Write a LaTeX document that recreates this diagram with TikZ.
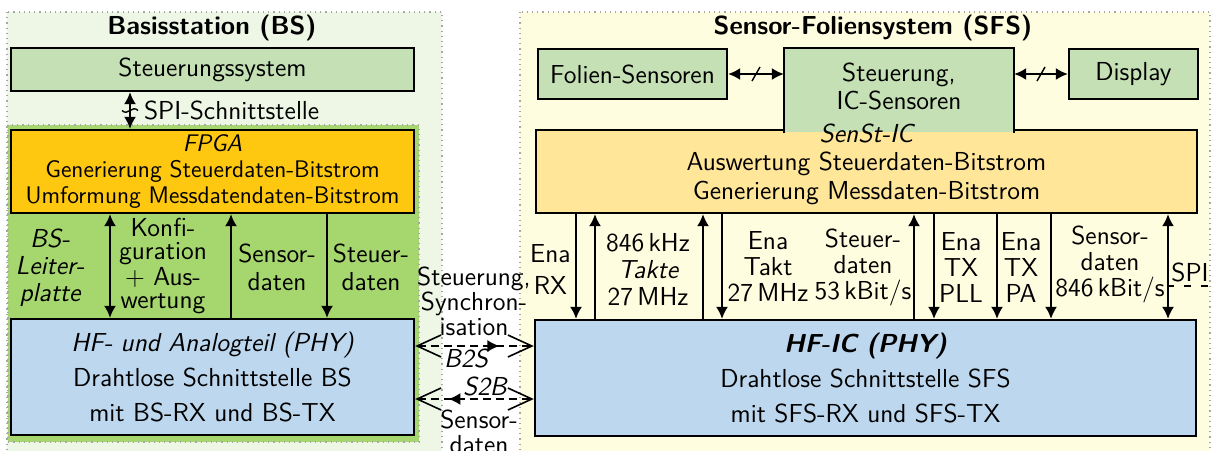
\documentclass[tikz,border=0pt]{standalone}
\usepackage{fontspec}
\usetikzlibrary{arrows.meta,positioning,decorations.markings}

\definecolor{bsback}{RGB}{238,246,229}
\definecolor{pcbgreen}{RGB}{166,214,110}
\definecolor{ctrlgreen}{RGB}{197,224,180}
\definecolor{fpgagold}{RGB}{255,200,16}
\definecolor{phyblue}{RGB}{189,215,238}
\definecolor{sfsback}{RGB}{255,253,224}
\definecolor{sfsorange}{RGB}{255,230,153}

\tikzset{
    every node/.style={font=\fontsize{13}{14}\selectfont\sffamily},
    region/.style={draw=gray!70, dotted, line width=0.6pt},
    block/.style={draw=black, line width=1.2pt, inner sep=0pt, align=center},
    title/.style={font=\fontsize{13}{15}\selectfont\sffamily\bfseries},
    lbl/.style={align=center, inner sep=0pt, font=\fontsize{13}{#1}\selectfont\sffamily},
    lbl/.default=13.5,
    sig/.style={line width=0.8pt, -{Latex[length=6pt,width=6pt]}},
    sig up/.style={line width=0.8pt, {Latex[length=6pt,width=6pt]}-},
    sig both/.style={line width=0.8pt, {Latex[length=6pt,width=6pt]}-{Latex[length=6pt,width=6pt]}},
    bus/.style={sig both, postaction={decorate},
        decoration={markings, mark=at position 0.5 with {\draw[-, line width=0.7pt] (-2pt,-3.5pt) -- (2pt,3.5pt);}}},
    bus wave/.style={sig both, postaction={decorate},
        decoration={markings, mark=at position 0.5 with {\draw[-, line width=0.7pt] (0pt,-4pt) .. controls (3pt,-1pt) and (-3pt,1pt) .. (0pt,4pt);}}},
    air/.style={line width=0.8pt, dash pattern=on 4pt off 2.5pt,
        {Straight Barb[length=12pt,width=11pt]}-{Straight Barb[length=12pt,width=11pt]}},
    to sfs/.style={postaction={decorate},
        decoration={markings, mark=at position 0.71 with {\arrow{Latex[length=6pt,width=6pt]}}}},
    to bs/.style={postaction={decorate},
        decoration={markings, mark=at position 0.28 with {\arrowreversed{Latex[length=6pt,width=6pt]}}}},
}

\begin{document}
\begin{tikzpicture}[x=0.5pt, y=-0.5pt]
    \useasboundingbox (0,0) rectangle (1215,450);
    \clip (0,0) rectangle (1215,450);
    \begin{scope}
        % Basisstation
        \draw[region, fill=bsback] (7,12) rectangle (442,470);
        \draw[region, fill=pcbgreen] (8,125) rectangle (419,442);
        \node[title] (bstitle) at (212,28) {Basisstation (BS)};
        \node[block, fill=ctrlgreen, minimum width=201.5pt, minimum height=21.5pt] (steu) at (212.5,69.5) {Steuerungssystem};
        \node[block, fill=fpgagold, minimum width=201.5pt, minimum height=41.5pt, font=\fontsize{12}{13}\selectfont\sffamily] (fpga) at (212.5,171.5)
            {{\itshape FPGA}\\Generierung Steuerdaten-Bitstrom\\Umformung Messdatendaten-Bitstrom};
        \node[block, fill=phyblue, minimum width=201.5pt, minimum height=58pt] (bsphy) at (212.5,377)
            {{\itshape HF- und Analogteil (PHY)}\\[3.5pt]Drahtlose Schnittstelle BS\\[3.5pt]mit BS-RX und BS-TX};
        \coordinate (spix) at (130,0);
        \coordinate (konfx) at (110,0);
        \coordinate (sensx) at (231,0);
        \coordinate (steux) at (327,0);
        \draw[bus wave] (steu.south -| spix) -- (fpga.north -| spix);
        \node[anchor=west] (spilabel) at (137,110) {SPI-Schnittstelle};
        \draw[sig both] (fpga.south -| konfx) -- (bsphy.north -| konfx);
        \draw[sig up] (fpga.south -| sensx) -- (bsphy.north -| sensx);
        \draw[sig] (fpga.south -| steux) -- (bsphy.north -| steux);
        \node[lbl] (pcblabel) at (50,268) {\itshape BS-\\\itshape Leiter-\\\itshape platte};
        \node[lbl=11.5] (konflabel) at (163,266) {Konfi-\\guration\\+ Aus-\\wertung};
        \node[lbl=14] (senslabel) at (277,267) {Sensor-\\daten};
        \node[lbl=14] (steulabel) at (371,267) {Steuer-\\daten};
    \end{scope}
    \begin{scope}
        % Sensor-Foliensystem
        \draw[region, fill=sfsback] (520,12) rectangle (1210,470);
        \node[title] (sfstitle) at (873,28) {Sensor-Foliensystem (SFS)};
        \node[block, fill=ctrlgreen, minimum width=94.5pt, minimum height=25pt] (folien) at (632.5,74) {Folien-Sensoren};
        \node[block, fill=ctrlgreen, minimum width=64.5pt, minimum height=25pt] (display) at (1133.5,74) {Display};
        \node[block, fill=sfsorange, minimum width=330.5pt, minimum height=41.5pt] (sfsctl) at (866.5,171.5) {};
        \node[block, draw=none, fill=ctrlgreen, minimum width=114pt, minimum height=41.5pt] (sensst) at (899,90.5) {};
        \draw[line width=1.2pt] (sensst.south west) -- (sensst.north west) -- (sensst.north east) -- (sensst.south east);
        \node[lbl=14] (sensttext) at (899,86) {Steuerung,\\IC-Sensoren};
        \node[lbl=14.25] (sfsctltext) at (866.5,164)
            {{\itshape SenSt-IC}\\Auswertung Steuerdaten-Bitstrom\\Generierung Messdaten-Bitstrom};
        \node[block, fill=phyblue, minimum width=330.5pt, minimum height=58pt] (sfsphy) at (865.5,378)
            {{\bfseries\itshape HF-IC (PHY)}\\[3.5pt]Drahtlose Schnittstelle SFS\\[3.5pt]mit SFS-RX und SFS-TX};
        \draw[bus] (folien.east) -- (folien.east -| sensst.west);
        \draw[bus] (display.west -| sensst.east) -- (display.west);
        \coordinate (enarx) at (576,0);
        \coordinate (takta) at (595,0);
        \coordinate (taktb) at (703,0);
        \coordinate (enatakt) at (722,0);
        \coordinate (steudat) at (914,0);
        \coordinate (enapll) at (934,0);
        \coordinate (enapa) at (997,0);
        \coordinate (sensdat) at (1051,0);
        \coordinate (spi) at (1168,0);
        \draw[sig] (sfsctl.south -| enarx) -- (sfsphy.north -| enarx);
        \draw[sig up] (sfsctl.south -| takta) -- (sfsphy.north -| takta);
        \draw[sig up] (sfsctl.south -| taktb) -- (sfsphy.north -| taktb);
        \draw[sig] (sfsctl.south -| enatakt) -- (sfsphy.north -| enatakt);
        \draw[sig up] (sfsctl.south -| steudat) -- (sfsphy.north -| steudat);
        \draw[sig] (sfsctl.south -| enapll) -- (sfsphy.north -| enapll);
        \draw[sig] (sfsctl.south -| enapa) -- (sfsphy.north -| enapa);
        \draw[sig] (sfsctl.south -| sensdat) -- (sfsphy.north -| sensdat);
        \draw[sig both] (sfsctl.south -| spi) -- (sfsphy.north -| spi);
        \node[lbl=12, anchor=east] (enarxlabel) at (571,269) {Ena\\[4pt]RX};
        \node[lbl=13.5] (taktlabel) at (648,270) {846\,kHz\\{\itshape Takte}\\27\,MHz};
        \node[lbl=13] (enataktlabel) at (768,267) {Ena\\Takt\\27\,MHz};
        \node[lbl=13] (steudatlabel) at (863,267) {Steuer-\\daten\\53\,kBit/s};
        \node[lbl=13] (enaplllabel) at (961,267) {Ena\\TX\\PLL};
        \node[lbl=13] (enapalabel) at (1021,267) {Ena\\TX\\PA};
        \node[lbl=13] (sensdatlabel) at (1110,264) {Sensor-\\daten\\846\,kBit/s};
        \node[lbl, anchor=east] (spilbl) at (1209,272) {SPI};
        \draw[line width=0.7pt, dash pattern=on 3.5pt off 5pt] ([xshift=-2pt,yshift=-2pt]spilbl.south west) -- ([yshift=-2pt]spilbl.south east);
    \end{scope}
    % Funkstrecke
    \coordinate (b2s) at (0,346);
    \coordinate (s2b) at (0,399);
    \draw[air, to sfs] (bsphy.east |- b2s) -- (sfsphy.west |- b2s);
    \draw[air, to bs] (bsphy.east |- s2b) -- (sfsphy.west |- s2b);
    \node[lbl=12.5] (synclabel) at (474,301) {Steuerung,\\Synchron-\\isation};
    \node[lbl] (b2slabel) at (466,358) {\itshape B2S};
    \node[lbl] (s2blabel) at (485,386) {\itshape S2B};
    \node[lbl=12.5] (sensorlabel) at (479,432) {Sensor-\\daten};
\end{tikzpicture}
\end{document}
